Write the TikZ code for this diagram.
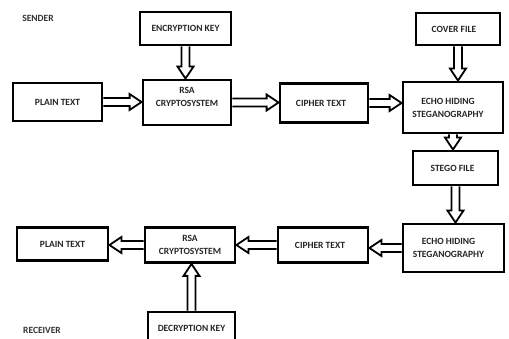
\documentclass[tikz,border=0pt]{standalone}
\usepackage{fontspec}
\setmainfont{Carlito}
\usetikzlibrary{calc}
\newcommand{\sw}{4pt}
\newcommand{\hw}{8pt}
\newcommand{\hl}{12pt}
\newcommand{\upby}[2]{\raisebox{#1}[\height][\depth]{#2}}
% horizontal block arrow: #3 is - for rightwards, + for leftwards
\newcommand{\harr}[3]{\draw[arr] let \p1=(#1),\p2=(#2) in
  (\x1,\y1+\sw) -- ({\x2#3\hl},\y1+\sw) -- ({\x2#3\hl},\y1+\hw) -- (\x2,\y1)
  -- ({\x2#3\hl},\y1-\hw) -- ({\x2#3\hl},\y1-\sw) -- (\x1,\y1-\sw);}
% vertical block arrow: #3 is + for downwards, - for upwards
\newcommand{\varr}[3]{\draw[arr] let \p1=(#1),\p2=(#2) in
  (\x1+\sw,\y1) -- (\x1+\sw,{\y2#3\hl}) -- (\x1+\hw,{\y2#3\hl}) -- (\x1,\y2)
  -- (\x1-\hw,{\y2#3\hl}) -- (\x1-\sw,{\y2#3\hl}) -- (\x1-\sw,\y1);}
\begin{document}
\begin{tikzpicture}[x=1pt,y=-1pt,
  box/.style={draw=black,line width=2.8pt,fill=white,inner sep=0pt,align=center,
    font=\bfseries\fontsize{9.5}{13}\selectfont,text=black!85},
  arr/.style={draw=black,line width=1.8pt,line join=miter},
  lbl/.style={font=\bfseries\fontsize{9.5}{10}\selectfont,text=black!80,inner sep=0pt}]
\useasboundingbox[fill=white] (0,0) rectangle (509,339);
\node[lbl] (sender) at (38,18) {SENDER};
\node[lbl] (receiver) at (42,330) {RECEIVER};
\node[box,minimum width=91pt,minimum height=33pt] (enc) at (185.5,28.5) {ENCRYPTION KEY};
\node[box,minimum width=89pt,minimum height=38pt] (pt1) at (57.5,102) {PLAIN TEXT};
\node[box,minimum width=88pt,minimum height=45pt] (rsa1) at (187,102.5) {\upby{6pt}{RSA}\\\upby{6pt}{CRYPTOSYSTEM}};
\node[box,minimum width=88pt,minimum height=39pt] (ct1) at (324,103) {CIPHER TEXT\hspace*{6pt}};
\node[box,minimum width=84pt,minimum height=32pt] (cov) at (458,29) {COVER FILE\hspace*{8pt}};
\node[box,minimum width=100pt,minimum height=51pt] (echo1) at (453,107.5) {ECHO HIDING\hspace*{10pt}\\STEGANOGRAPHY\hspace*{10pt}};
\node[box,minimum width=85pt,minimum height=34pt] (stego) at (455.5,168) {STEGO FILE\hspace*{6pt}};
\node[box,minimum width=101pt,minimum height=48pt] (echo2) at (453.5,248) {ECHO HIDING\hspace*{10pt}\\STEGANOGRAPHY\hspace*{10pt}};
\node[box,minimum width=90pt,minimum height=35pt] (ct2) at (323,245) {CIPHER TEXT\hspace*{6pt}};
\node[box,minimum width=90pt,minimum height=35pt] (rsa2) at (190,245) {RSA\\CRYPTOSYSTEM};
\node[box,minimum width=91pt,minimum height=33pt] (pt2) at (62.5,244) {PLAIN TEXT};
\node[box,minimum width=87pt,minimum height=32pt] (dec) at (191.5,328) {DECRYPTION KEY};
\harr{pt1.east}{rsa1.west}{-}
\harr{rsa1.east}{ct1.west}{-}
\harr{ct1.east}{echo1.west}{-}
\varr{enc.south}{rsa1.north}{+}
\varr{cov.south}{echo1.north}{+}
\varr{echo1.south}{stego.north}{+}
\varr{stego.south}{echo2.north}{+}
\harr{echo2.west}{ct2.east}{+}
\harr{ct2.west}{rsa2.east}{+}
\harr{rsa2.west}{pt2.east}{+}
\varr{dec.north}{rsa2.south}{-}
\end{tikzpicture}
\end{document}
